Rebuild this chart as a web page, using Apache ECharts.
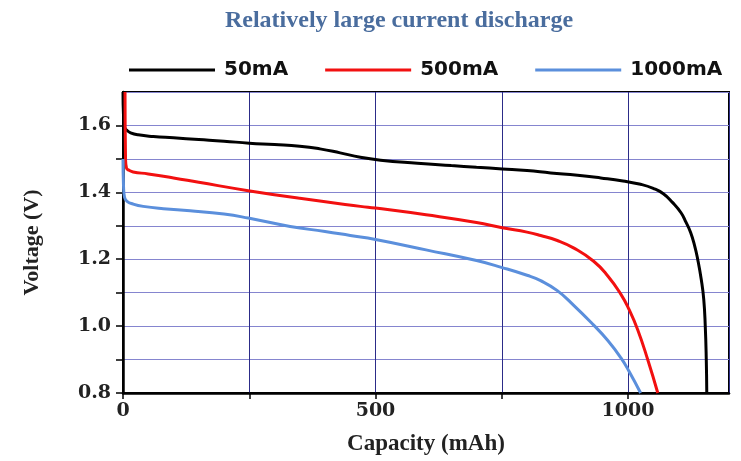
<!DOCTYPE html>
<html>
<head>
<meta charset="utf-8">
<script src="https://cdn.jsdelivr.net/npm/echarts@6/dist/echarts.min.js"></script>
<style>html,body{margin:0;padding:0;background:#fff}#c{width:741px;height:461px}</style>
</head>
<body>
<div id="c"></div>
<script>
// ---- data ----
const seriesNames = ['50mA', '500mA', '1000mA'];
const caps50  = [0, 1, 3, 8, 15, 30, 60, 100, 150, 200, 250, 300, 350, 390, 430, 470, 510, 583, 650, 700, 751, 800, 847, 900, 946, 990, 1025, 1050, 1070, 1088, 1105, 1115, 1124, 1132, 1138, 1145, 1150, 1153, 1155, 1156];
const volt50  = [1.70, 1.63, 1.595, 1.585, 1.578, 1.572, 1.567, 1.563, 1.558, 1.553, 1.547, 1.543, 1.538, 1.530, 1.518, 1.505, 1.496, 1.487, 1.480, 1.475, 1.470, 1.465, 1.458, 1.451, 1.443, 1.434, 1.424, 1.412, 1.396, 1.370, 1.339, 1.31, 1.28, 1.24, 1.20, 1.14, 1.08, 1.00, 0.90, 0.80];
const caps500 = [4, 5, 7, 12, 20, 50, 100, 150, 248, 350, 470, 500, 600, 700, 751, 800, 827, 860, 892, 932, 960, 986, 1002, 1019, 1039, 1059];
const volt500 = [1.70, 1.50, 1.472, 1.466, 1.461, 1.455, 1.443, 1.430, 1.405, 1.382, 1.358, 1.353, 1.333, 1.310, 1.294, 1.281, 1.271, 1.256, 1.234, 1.194, 1.150, 1.095, 1.050, 0.990, 0.900, 0.80];
const caps1000 = [0, 1, 3, 8, 20, 40, 80, 133, 200, 248, 331, 400, 450, 500, 600, 700, 751, 800, 827, 860, 892, 932, 960, 986, 1002, 1025];
const volt1000 = [1.50, 1.42, 1.385, 1.373, 1.365, 1.358, 1.351, 1.345, 1.335, 1.323, 1.298, 1.283, 1.271, 1.259, 1.228, 1.196, 1.175, 1.152, 1.136, 1.106, 1.063, 1.003, 0.957, 0.905, 0.865, 0.80];
const xTickLabels = ['0', '500', '1000'];
const yTickLabels = ['0.8', '1.0', '1.2', '1.4', '1.6'];

const zip = (xs, ys) => xs.map((x, i) => [x, ys[i]]);
const colors = ['#000000', '#f21010', '#5b8fdc'];

const chart = echarts.init(document.getElementById('c'), null, {renderer: 'canvas'});
chart.setOption({
  animation: false,
  backgroundColor: '#ffffff',
  title: {
    text: 'Relatively large current discharge',
    left: 394, top: 4, textAlign: 'center',
    textStyle: {fontFamily: 'Liberation Serif', fontWeight: 'bold', fontSize: 24, color: '#4a6d9e'}
  },
  legend: {
    left: 124, top: 55, itemWidth: 86, itemHeight: 3, itemGap: 37, icon: 'rect',
    data: seriesNames,
    textStyle: {fontFamily: 'DejaVu Sans', fontWeight: 'bold', fontSize: 20, color: '#111', padding: [0, 0, 0, 4]}
  },
  grid: {left: 123, right: 12, top: 92, bottom: 67, show: true, borderColor: '#000', borderWidth: 2, backgroundColor: 'transparent'},
  xAxis: {
    type: 'value', min: 0, max: 1200, interval: 250,
    name: 'Capacity (mAh)', nameLocation: 'middle', nameGap: 40,
    nameTextStyle: {fontFamily: 'Liberation Serif', fontWeight: 'bold', fontSize: 23, color: '#222'},
    axisLine: {show: true, onZero: false, lineStyle: {color: '#000', width: 2.5}},
    axisTick: {show: true, inside: false, length: 6, lineStyle: {color: '#000', width: 1.5}},
    axisLabel: {
      margin: 9, showMaxLabel: false,
      fontFamily: 'DejaVu Serif', fontWeight: 'bold', fontSize: 19, color: '#222',
      formatter: v => xTickLabels.includes(String(v)) ? String(v) : ''
    },
    splitLine: {show: true, lineStyle: {color: '#2c2c88', width: 1}}
  },
  yAxis: {
    type: 'value', min: 0.8, max: 1.7, interval: 0.1,
    name: 'Voltage (V)', nameLocation: 'middle', nameGap: 80,
    nameTextStyle: {fontFamily: 'Liberation Serif', fontWeight: 'bold', fontSize: 22, color: '#222'},
    axisLine: {show: true, onZero: false, lineStyle: {color: '#000', width: 2.5}},
    axisTick: {show: true, inside: false, length: 7, lineStyle: {color: '#000', width: 1.5}},
    axisLabel: {
      margin: 12, showMaxLabel: false,
      fontFamily: 'DejaVu Serif', fontWeight: 'bold', fontSize: 19, color: '#222',
      formatter: v => { const s = v.toFixed(1); return yTickLabels.includes(s) ? s : ''; }
    },
    splitLine: {show: true, lineStyle: {color: '#8585cf', width: 1}}
  },
  series: [
    {name: seriesNames[0], type: 'line', data: zip(caps50, volt50), showSymbol: false, symbol: 'none', smooth: 0.5, lineStyle: {color: colors[0], width: 3}, itemStyle: {color: colors[0]}},
    {name: seriesNames[1], type: 'line', data: zip(caps500, volt500), showSymbol: false, symbol: 'none', smooth: 0.5, lineStyle: {color: colors[1], width: 3}, itemStyle: {color: colors[1]}},
    {name: seriesNames[2], type: 'line', data: zip(caps1000, volt1000), showSymbol: false, symbol: 'none', smooth: 0.5, lineStyle: {color: colors[2], width: 3}, itemStyle: {color: colors[2]}}
  ]
});
</script>
</body>
</html>
